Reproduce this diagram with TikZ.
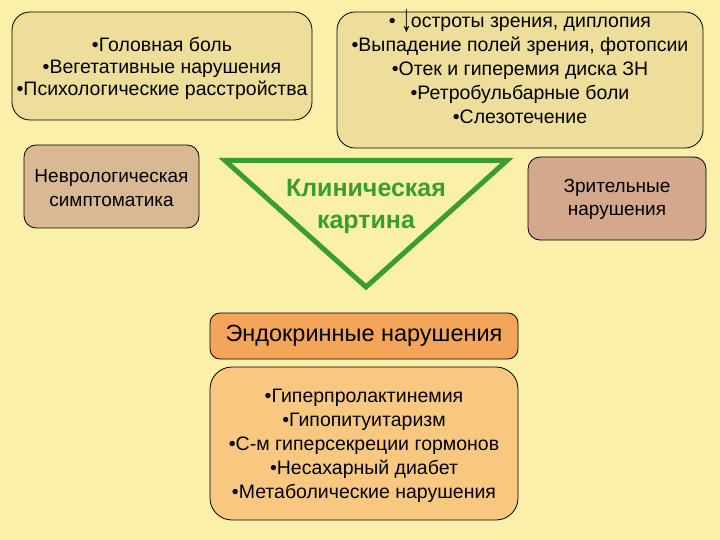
\documentclass[tikz,border=0pt]{standalone}
\usepackage{fontspec}
\setmainfont{Liberation Sans}
\usepackage{graphicx}
\usepackage{tikz}
\definecolor{bgyellow}{RGB}{250,240,170}
\definecolor{sandfill}{RGB}{238,222,155}
\definecolor{nevrofill}{RGB}{217,185,148}
\definecolor{zrenfill}{RGB}{211,168,140}
\definecolor{endofill}{RGB}{243,165,90}
\definecolor{listfill}{RGB}{249,200,128}
\definecolor{klingreen}{RGB}{60,155,50}
\newcommand{\downarr}{\smash{\raisebox{-4pt}{\scalebox{1.1}[2.0]{↓}}}}
\tikzset{
  box/.style={draw=black, line width=0.8pt, rounded corners=18pt, inner sep=0pt},
  listtext/.style={align=center, font=\fontsize{19.5}{24}\selectfont},
  sidetext/.style={align=center, font=\fontsize{19}{23.5}\selectfont}
}

\begin{document}
\begin{tikzpicture}[x=1pt, y=-1pt]
\useasboundingbox (0,0) rectangle (720,540);
\fill[bgyellow] (0,0) rectangle (720,540);
% upper lists
\node[box, fill=sandfill, minimum width=300pt, minimum height=108pt] (golova) at (162,66) {};
\node[listtext, font=\fontsize{19.5}{22}\selectfont] (golovatxt) at (162,68) {•Головная боль\\•Вегетативные нарушения\\•Психологические расстройства};
\node[box, fill=sandfill, minimum width=366pt, minimum height=136pt] (zrenie) at (520,80) {};
\node[listtext] (zrenietxt) at (520,70) {• \downarr\kern-1pt остроты зрения, диплопия\\•Выпадение полей зрения, фотопсии\\•Отек и гиперемия диска ЗН\\•Ретробульбарные боли\\•Слезотечение};
% side boxes
\node[box, rounded corners=12pt, fill=nevrofill, minimum width=175pt, minimum height=83pt] (nevro) at (111.5,186.5) {};
\node[sidetext] (nevrotxt) at (111.5,188) {Неврологическая\\симптоматика};
\node[box, rounded corners=12pt, fill=zrenfill, minimum width=178pt, minimum height=83pt] (zrit) at (617,198.5) {};
\node[sidetext] (zrittxt) at (617,199.5) {Зрительные\\нарушения};
% triangle
\draw[klingreen, line width=5pt, line join=miter] (225,160.5) -- (507,160.5) -- (366,287) -- cycle;
\node[align=center, text=klingreen, font=\bfseries\fontsize{25}{32}\selectfont] (klinika) at (366,206) {Клиническая\\картина};
% endocrine
\node[box, rounded corners=10pt, fill=endofill, minimum width=308pt, minimum height=46pt, font=\fontsize{23.5}{28}\selectfont] (endo) at (364,336) {Эндокринные нарушения};
\node[box, rounded corners=22pt, fill=listfill, minimum width=308pt, minimum height=153pt] (endolist) at (364,443.5) {};
\node[listtext] (endolisttxt) at (364,446) {•Гиперпролактинемия\\•Гипопитуитаризм\\•С-м гиперсекреции гормонов\\•Несахарный диабет\\•Метаболические нарушения};
\end{tikzpicture}
\end{document}
